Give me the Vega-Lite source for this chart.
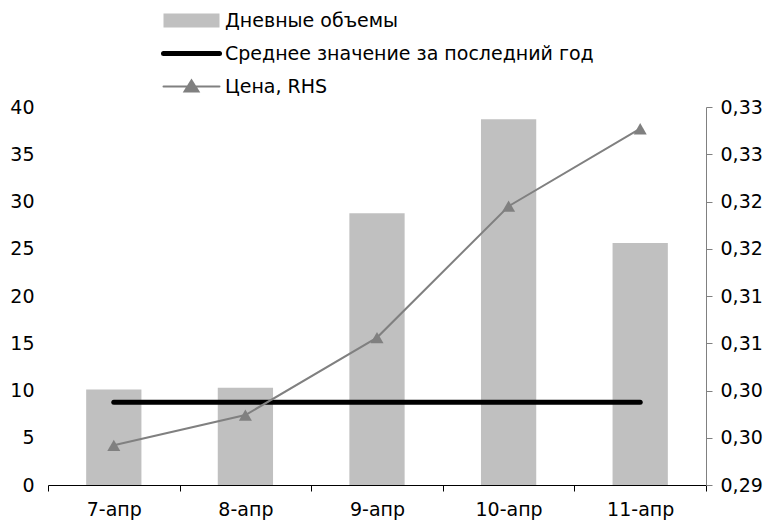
{
  "$schema": "https://vega.github.io/schema/vega-lite/v6.json",
  "width": 658,
  "height": 378,
  "autosize": {"type": "none"},
  "padding": {"left": 48, "top": 107, "right": 63, "bottom": 43},
  "background": "white",
  "config": {
    "font": "DejaVu Sans",
    "view": {"stroke": null},
    "axis": {"labelFont": "DejaVu Sans", "labelFontSize": 19, "labelColor": "#000000", "grid": false}
  },
  "data": {
    "values": [
      {"date": "7-апр", "volume": 10.1, "avg": 8.75, "price": 0.2942},
      {"date": "8-апр", "volume": 10.3, "avg": 8.75, "price": 0.2974},
      {"date": "9-апр", "volume": 28.75, "avg": 8.75, "price": 0.3056},
      {"date": "10-апр", "volume": 38.7, "avg": 8.75, "price": 0.3195},
      {"date": "11-апр", "volume": 25.6, "avg": 8.75, "price": 0.3277}
    ]
  },
  "encoding": {
    "x": {
      "field": "date",
      "type": "nominal",
      "sort": null,
      "scale": {"paddingInner": 0, "paddingOuter": 0},
      "axis": {
        "title": null,
        "labelAngle": 0,
        "domainColor": "#000000",
        "tickColor": "#000000",
        "tickSize": 6,
        "labelPadding": 9,
        "tickBand": "extent"
      }
    }
  },
  "layer": [
    {
      "layer": [
        {
          "mark": {"type": "bar", "width": {"band": 0.42}},
          "encoding": {
            "y": {
              "field": "volume",
              "type": "quantitative",
              "scale": {"domain": [0, 40], "nice": false},
              "axis": {
                "title": null,
                "orient": "left",
                "values": [0, 5, 10, 15, 20, 25, 30, 35, 40],
                "domain": false,
                "ticks": false,
                "tickSize": 0,
                "labelPadding": 14
              }
            },
            "color": {
              "datum": "Дневные объемы",
              "scale": {
                "domain": ["Дневные объемы", "Среднее значение за последний год", "Цена, RHS"],
                "range": ["#C0C0C0", "#000000", "#808080"]
              },
              "legend": {
                "title": null,
                "orient": "none",
                "legendX": 115,
                "legendY": -96,
                "padding": 0,
                "labelFont": "DejaVu Sans",
                "labelFontSize": 19,
                "labelColor": "#000000",
                "labelLimit": 0,
                "symbolSize": 3136,
                "symbolOffset": 19,
                "labelOffset": 24,
                "rowPadding": 12,
                "encode": {
                  "symbols": {
                    "update": {
                      "shape": {"signal": "datum.value === 'Дневные объемы' ? 'M-1,-0.25H1V0.25H-1Z' : (datum.value === 'Цена, RHS' ? 'M-1,0H1M-0.25,0.18L0,-0.22L0.25,0.18Z' : 'stroke')"},
                      "fill": {"signal": "datum.value === 'Дневные объемы' ? '#C0C0C0' : (datum.value === 'Цена, RHS' ? '#808080' : 'transparent')"},
                      "stroke": {"signal": "datum.value === 'Дневные объемы' ? 'transparent' : (datum.value === 'Цена, RHS' ? '#808080' : '#000000')"},
                      "strokeWidth": {"signal": "datum.value === 'Дневные объемы' ? 0 : (datum.value === 'Цена, RHS' ? 2 : 5)"},
                      "strokeCap": {"value": "round"},
                      "opacity": {"value": 1},
                      "fillOpacity": {"value": 1},
                      "strokeOpacity": {"value": 1}
                    }
                  }
                }
              }
            }
          }
        },
        {
          "mark": {"type": "line", "strokeWidth": 5, "strokeCap": "round"},
          "encoding": {
            "y": {"field": "avg", "type": "quantitative", "axis": {"title": null}},
            "color": {"datum": "Среднее значение за последний год"}
          }
        }
      ]
    },
    {
      "layer": [
        {
          "mark": {"type": "line", "strokeWidth": 2},
          "encoding": {
            "y": {
              "field": "price",
              "type": "quantitative",
              "scale": {"domain": [0.29, 0.33], "nice": false, "zero": false},
              "axis": {
                "title": null,
                "orient": "right",
                "values": [0.29, 0.295, 0.3, 0.305, 0.31, 0.315, 0.32, 0.325, 0.33],
                "labelExpr": "replace(format(datum.value + 0.000001, '.2f'), '.', ',')",
                "domainColor": "#808080",
                "tickColor": "#808080",
                "tickSize": 6,
                "labelPadding": 8
              }
            },
            "color": {"datum": "Цена, RHS"}
          }
        },
        {
          "mark": {"type": "point", "shape": "triangle-up", "filled": true, "size": 170, "opacity": 1, "color": "#808080"},
          "encoding": {
            "y": {"field": "price", "type": "quantitative"}
          }
        }
      ]
    }
  ],
  "resolve": {"scale": {"y": "independent"}}
}
